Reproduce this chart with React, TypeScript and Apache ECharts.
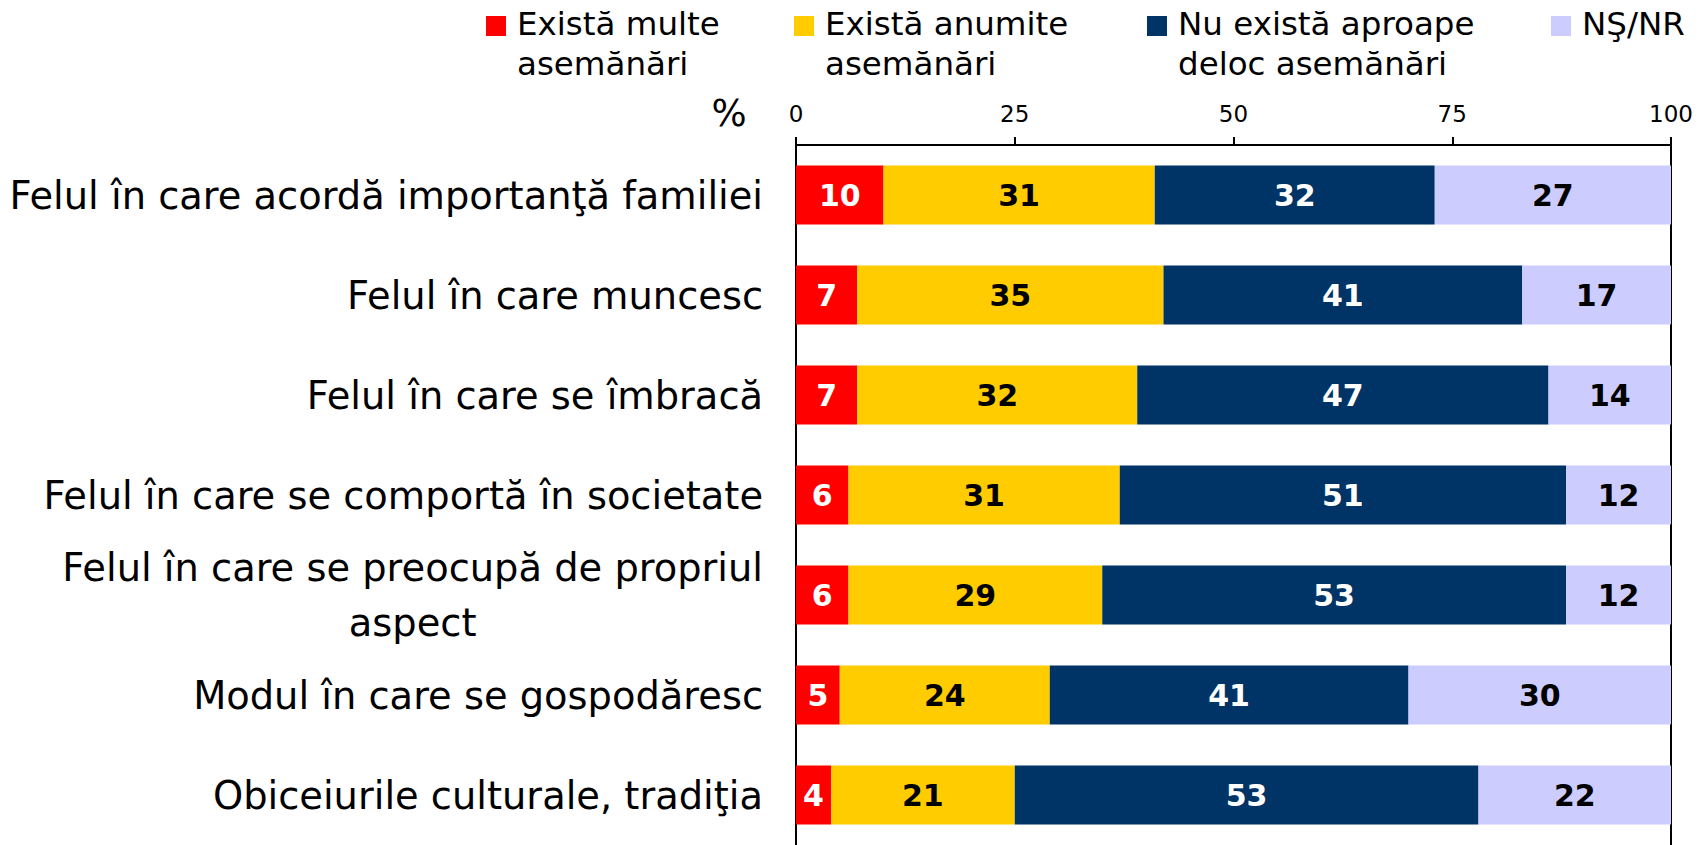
import React, { useEffect, useRef } from "react";
import * as echarts from "echarts";

const categories = [
  "Felul în care acordă importanţă familiei",
  "Felul în care muncesc",
  "Felul în care se îmbracă",
  "Felul în care se comportă în societate",
  "Felul în care se preocupă de propriul\naspect",
  "Modul în care se gospodăresc",
  "Obiceiurile culturale, tradiţia",
];

const seriesNames = [
  "Există multe\nasemănări",
  "Există anumite\nasemănări",
  "Nu există aproape\ndeloc asemănări",
  "NŞ/NR",
];

const multe = [10, 7, 7, 6, 6, 5, 4];
const anumite = [31, 35, 32, 31, 29, 24, 21];
const deloc = [32, 41, 47, 51, 53, 41, 53];
const nsnr = [27, 17, 14, 12, 12, 30, 22];

const xTicks = [0, 25, 50, 75, 100];

const colors = ["#FF0000", "#FFCC00", "#003366", "#CCCCFF"];
const labelColors = ["#FFFFFF", "#000000", "#FFFFFF", "#000000"];

const FONT = '"DejaVu Sans", Verdana, sans-serif';

export default function App() {
  const ref = useRef<HTMLDivElement>(null);

  useEffect(() => {
    if (!ref.current) return;
    const chart = echarts.init(ref.current, undefined, { renderer: "svg" });
    const allData = [multe, anumite, deloc, nsnr];

    const legendX = [486, 794, 1147, 1551];
    const legendGraphics: any[] = [];
    seriesNames.forEach((name, i) => {
      legendGraphics.push({
        type: "rect",
        shape: { x: legendX[i], y: 16, width: 20, height: 20 },
        style: { fill: colors[i] },
        silent: true,
      });
      legendGraphics.push({
        type: "text",
        x: legendX[i] + 31,
        y: 4,
        style: {
          text: name,
          font: `32.5px ${FONT}`,
          fill: "#000",
          lineHeight: 40,
          textAlign: "left",
          textVerticalAlign: "top",
        },
        silent: true,
      });
    });
    legendGraphics.push({
      type: "text",
      x: 729,
      y: 113,
      style: {
        text: "%",
        font: `37px ${FONT}`,
        fill: "#000",
        textAlign: "center",
        textVerticalAlign: "middle",
      },
      silent: true,
    });

    chart.setOption({
      animation: false,
      backgroundColor: "#fff",
      textStyle: { fontFamily: FONT },
      grid: { left: 796, right: 27, top: 145, height: 711, containLabel: false },
      xAxis: {
        type: "value",
        position: "top",
        min: 0,
        max: 100,
        interval: 25,
        axisLine: { show: true, lineStyle: { color: "#000", width: 2 } },
        axisTick: { show: true, length: 8, lineStyle: { color: "#000", width: 2 } },
        axisLabel: {
          fontSize: 23,
          color: "#000",
          margin: 20,
          fontFamily: FONT,
          formatter: (v: number) => (xTicks.includes(v) ? String(v) : ""),
        },
        splitLine: { show: false },
      },
      yAxis: [
        {
          type: "category",
          inverse: true,
          data: categories,
          axisLine: { show: true, lineStyle: { color: "#000", width: 2 } },
          axisTick: { show: false },
          axisLabel: {
            interval: 0,
            margin: 33,
            color: "#000",
            fontSize: 38.4,
            fontFamily: FONT,
            formatter: (v: string) =>
              v
                .split("\n")
                .map((s) => `{c|${s}}`)
                .join("\n"),
            rich: {
              c: {
                fontSize: 38.4,
                fontFamily: FONT,
                color: "#000",
                align: "center",
                lineHeight: 55,
              },
            },
          },
        },
        {
          type: "category",
          inverse: true,
          position: "right",
          data: categories,
          axisLine: { show: true, lineStyle: { color: "#000", width: 2 } },
          axisTick: { show: false },
          axisLabel: { show: false },
        },
      ],
      series: seriesNames.map((name, i) => ({
        name,
        type: "bar",
        stack: "total",
        barWidth: 59,
        data: allData[i],
        itemStyle: { color: colors[i] },
        label: {
          show: true,
          position: "inside",
          color: labelColors[i],
          fontSize: 30,
          fontWeight: "bold",
          fontFamily: FONT,
        },
      })),
      graphic: legendGraphics,
    });

    return () => chart.dispose();
  }, []);

  return (
    <div
      ref={ref}
      style={{ position: "absolute", left: 0, top: 0, width: 1698, height: 845 }}
    />
  );
}
